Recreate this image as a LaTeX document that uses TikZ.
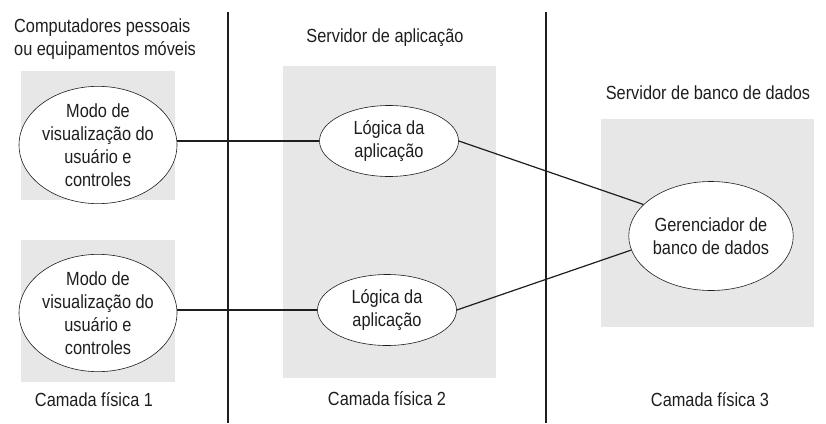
\documentclass[tikz,border=0pt]{standalone}
\usepackage{fontspec}
\setmainfont{Liberation Sans}[FakeStretch=0.86]
\usetikzlibrary{shapes.geometric}
\definecolor{panel}{RGB}{231,231,231}
\definecolor{ink}{RGB}{30,30,30}
\begin{document}
\begin{tikzpicture}[x=1pt,y=-1pt,
  txt/.style={font=\fontsize{19}{22.5}\selectfont, text=ink, inner sep=0pt, align=center},
  oval/.style={ellipse, draw=ink, line width=0.6pt, fill=white, inner sep=0pt, text=ink,
               font=\fontsize{19}{23}\selectfont, align=center},
  panelbox/.style={fill=panel, draw=none},
  tierline/.style={line width=1.2pt, draw=ink},
  link/.style={line width=1.2pt, draw=ink}]
\useasboundingbox (0,0) rectangle (826,423);
% panels
\fill[panelbox] (21,71) rectangle (175,200);
\fill[panelbox] (21,240) rectangle (175,382);
\fill[panelbox] (283,66) rectangle (496,378);
\fill[panelbox] (601,119) rectangle (814,327);
% tier separators
\coordinate (s1t) at (228,12);
\coordinate (s1b) at (228,423);
\coordinate (s2t) at (546,12);
\coordinate (s2b) at (546,423);
\draw[tierline] (s1t) -- (s1b);
\draw[tierline] (s2t) -- (s2b);
% headings
\node[txt, anchor=west, align=left] (h1) at (14,39) {Computadores pessoais\\ou equipamentos móveis};
\node[txt] (h2) at (385,38) {Servidor de aplicação};
\node[txt] (h3) at (708,93) {Servidor de banco de dados};
\node[txt] (c1) at (94,400) {Camada física 1};
\node[txt] (c2) at (387,399) {Camada física 2};
\node[txt] (c3) at (710,400) {Camada física 3};
% ellipses
\node[oval, minimum width=131pt, minimum height=101pt] (u1) at (98,145)
  {Modo de\\visualização do\\usuário e\\controles};
\node[oval, minimum width=131pt, minimum height=100pt] (u2) at (98,313)
  {Modo de\\visualização do\\usuário e\\controles};
\node[oval, minimum width=139pt, minimum height=71pt] (l1) at (389,141)
  {Lógica da\\aplicação};
\node[oval, minimum width=139pt, minimum height=71pt] (l2) at (387,310)
  {Lógica da\\aplicação};
\node[oval, minimum width=149pt, minimum height=109pt] (db) at (711,236)
  {Gerenciador de\\banco de dados};
% connectors
\draw[link] (l1.west) -- (u1.east |- l1.west);
\draw[link] (l2.west) -- (u2.east |- l2.west);
\draw[link] (l1.east) -- (db.155);
\draw[link] (l2.east) -- (db.190);
\end{tikzpicture}
\end{document}
